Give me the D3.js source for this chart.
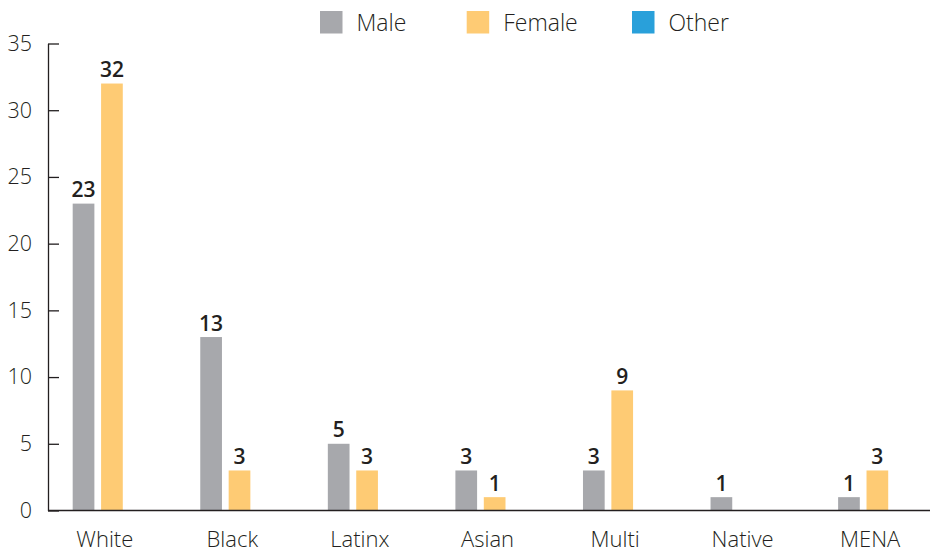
<!DOCTYPE html>
<html><head><meta charset="utf-8">
<script src="https://cdn.jsdelivr.net/npm/d3@7"></script>
<style>
body{margin:0;background:#fff;}
svg text{font-family:"Open Sans",sans-serif;fill:#231f20;}
</style></head>
<body><svg id="c" width="930" height="553"></svg>
<script>
const categories = ["White","Black","Latinx","Asian","Multi","Native","MENA"];
const series = ["Male","Female","Other"];
const maleValues = [23,13,5,3,3,1,1];
const femaleValues = [32,3,3,1,9,null,3];
const otherValues = [null,null,null,null,null,null,null];
const yTicks = [0,5,10,15,20,25,30,35];
const colors = {Male:"#a7a8ac", Female:"#fecb74", Other:"#29a0da"};

const valuesBySeries = {Male:maleValues, Female:femaleValues, Other:otherValues};
const svg = d3.select("#c");
const y = d3.scaleLinear().domain([0,35]).range([510.5,43.5]);
const x0 = d3.scaleBand().domain(categories).range([41,934]);
const x1 = d3.scaleBand().domain(series).range([-32.1,46.4]).paddingInner(0.236);

// bars
const data = [];
categories.forEach((c,i)=>series.forEach(s=>{
  const v = valuesBySeries[s][i];
  if(v!=null) data.push({c,s,v});
}));
const cx = c => x0(c)+x0.bandwidth()/2;
svg.append("g").selectAll("rect").data(data).join("rect")
  .attr("x",d=>cx(d.c)+x1(d.s))
  .attr("y",d=>y(d.v))
  .attr("width",x1.bandwidth())
  .attr("height",d=>y(0)-y(d.v))
  .attr("fill",d=>colors[d.s]);
svg.append("g").selectAll("text").data(data).join("text")
  .attr("x",d=>cx(d.c)+x1(d.s)+x1.bandwidth()/2)
  .attr("y",d=>y(d.v)-6.5)
  .attr("text-anchor","middle")
  .attr("font-size",21).attr("font-weight",600)
  .text(d=>d.v);

// y axis
const ya = svg.append("g").attr("transform","translate(48,0)")
  .call(d3.axisLeft(y).tickValues(yTicks).tickSizeInner(-11).tickSizeOuter(0).tickPadding(16));
ya.selectAll("path,line").attr("stroke","#231f20").attr("stroke-width",1.3);
ya.selectAll("text").attr("font-size",21.5).attr("font-weight",300).attr("fill","#231f20").style("font-family","'Open Sans',sans-serif");

// baseline
svg.append("line").attr("x1",48).attr("x2",930).attr("y1",y(0)).attr("y2",y(0))
  .attr("stroke","#231f20").attr("stroke-width",1.3);

// x labels
svg.append("g").selectAll("text").data(categories).join("text")
  .attr("x",c=>cx(c)).attr("y",546.5).attr("text-anchor","middle")
  .attr("font-size",22).attr("font-weight",300).text(c=>c);

// legend
const legX = [320,466.7,632];
const lg = svg.append("g").selectAll("g").data(series).join("g")
  .attr("transform",(d,i)=>`translate(${legX[i]},11)`);
lg.append("rect").attr("width",22.5).attr("height",22.5).attr("fill",d=>colors[d]);
lg.append("text").attr("x",36.5).attr("y",19.5).attr("font-size",23).attr("font-weight",300).text(d=>d);
</script></body></html>
